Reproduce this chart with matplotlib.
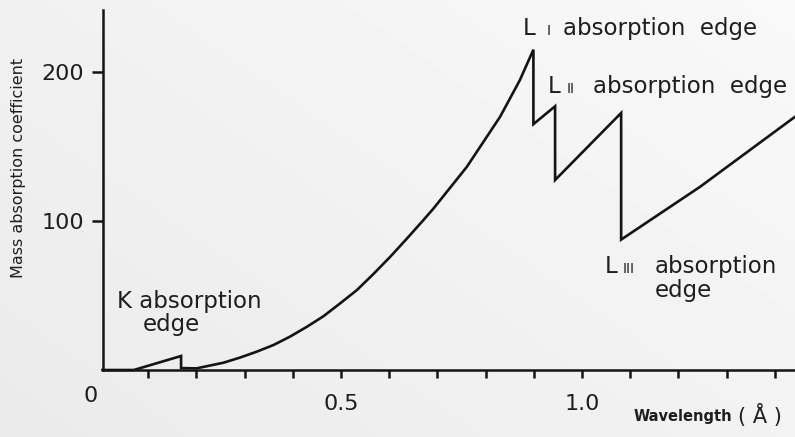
import numpy as np
import matplotlib
matplotlib.use("Agg")
import matplotlib.pyplot as plt

plt.rcParams['font.family'] = ['DejaVu Sans']

# Mass absorption coefficient vs. wavelength (with K and L absorption edges)
wavelength = [0.005, 0.07, 0.168, 0.168, 0.20, 0.256, 0.29, 0.325, 0.36, 0.394,
              0.429, 0.463, 0.498, 0.533, 0.567, 0.602, 0.636, 0.671, 0.692,
              0.761, 0.830, 0.871, 0.899, 0.899, 0.944, 0.944, 1.081, 1.081,
              1.245, 1.442]
mass_abs = [0, 0, 9.4, 1.3, 1.1, 4.9, 8.3, 12.3, 16.8, 22.4,
            29.0, 36.0, 44.7, 53.7, 64.4, 76.0, 88.0, 100.7, 108.5,
            136.4, 170.0, 194.6, 215.0, 165.0, 177.0, 127.5, 172.5, 87.5,
            123.0, 170.0]

x_ticks = [0.1, 0.2, 0.3, 0.4, 0.5, 0.6, 0.7, 0.8, 0.9, 1.0, 1.1, 1.2, 1.3, 1.4]
x_tick_labels = ['', '', '', '', '0.5', '', '', '', '', '1.0', '', '', '', '']
y_ticks = [100, 200]
y_tick_labels = ['100', '200']

ink = '#141414'
text_ink = '#1e1e1e'

fig = plt.figure(figsize=(7.95, 4.37), dpi=100)

# soft grey backdrop, slightly darker toward the lower left
bg = fig.add_axes([0, 0, 1, 1], zorder=-10)
gx, gy = np.meshgrid(np.linspace(0, 1, 200), np.linspace(0, 1, 120))
shade = 0.975 - 0.035 * (1 - gx) * 0.9 - 0.025 * gy
bg.imshow(shade, cmap='gray', vmin=0, vmax=1, aspect='auto',
          extent=[0, 1, 0, 1], interpolation='bilinear')
bg.set_axis_off()

ax = fig.add_axes([102.5 / 795, 67 / 437, 692.5 / 795, 360 / 437])
ax.set_facecolor('none')
ax.plot(wavelength, mass_abs, color=ink, lw=1.9, solid_joinstyle='miter',
        clip_on=False, zorder=3)

ax.set_xlim(0.005, 0.005 + 692.5 / 482)
ax.set_ylim(0, 241.6)

for side in ('top', 'right'):
    ax.spines[side].set_visible(False)
for side in ('left', 'bottom'):
    ax.spines[side].set_linewidth(1.8)
    ax.spines[side].set_color(ink)

ax.set_xticks(x_ticks)
ax.set_xticklabels(x_tick_labels)
ax.set_yticks(y_ticks)
ax.set_yticklabels(y_tick_labels)
ax.tick_params(axis='x', direction='out', length=6, width=1.8, color=ink,
               labelsize=16, labelcolor=text_ink, pad=11)
ax.tick_params(axis='y', direction='out', length=8, width=1.8, color=ink,
               labelsize=16, labelcolor=text_ink, pad=5)

# origin label
ax.text(-0.02, -17.4, '0', fontsize=16, color=text_ink, ha='center', va='center')

# axis titles
ax.text(1.106, -31.5, 'Wavelength', fontsize=10.5, color=text_ink,
        ha='left', va='center', fontweight='bold')
ax.text(1.324, -30.2, '( Å )', fontsize=15, color=text_ink, ha='left', va='center')
fig.text(19 / 795, 1 - 168 / 437, 'Mass absorption coefficient', fontsize=11.5,
         color=text_ink, rotation=90, ha='center', va='center')

# edge annotations
lab = dict(fontsize=16.5, color=text_ink, va='baseline', ha='left')
num = dict(fontsize=10, color=text_ink, va='baseline', ha='left')

ax.text(0.0353, 41.6, 'K absorption', **lab)
ax.text(0.0892, 26.2, 'edge', **lab)

ax.text(0.8776, 224.8, 'L', **lab)
ax.text(0.9274, 224.8, 'I', **num)
ax.text(0.9606, 224.8, 'absorption  edge', **lab)

ax.text(0.9295, 185.9, 'L', **lab)
ax.text(0.9689, 185.9, 'II', **num)
ax.text(1.0228, 185.9, 'absorption  edge', **lab)

ax.text(1.0477, 65.1, 'L', **lab)
ax.text(1.0851, 65.1, 'III', **num)
ax.text(1.1515, 65.1, 'absorption', **lab)
ax.text(1.1515, 49.0, 'edge', **lab)

fig.savefig('out.png', dpi=100)
